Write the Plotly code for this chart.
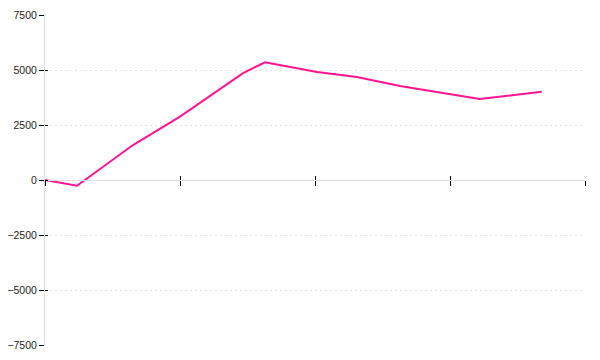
import plotly.graph_objects as go

x_vals = [0.0, 0.237, 0.652, 1.0, 1.467, 1.63, 2.015, 2.31, 2.63, 3.22, 3.68]
y_vals = [0, -260, 1590, 2880, 4860, 5350, 4910, 4680, 4270, 3680, 4010]
y_ticks = [-7500, -5000, -2500, 0, 2500, 5000, 7500]
x_ticks = [0, 1, 2, 3, 4]

fig = go.Figure()
# helper trace so the overlay axes (inner halves of the ticks) get drawn
fig.add_trace(go.Scatter(x=x_vals, y=y_vals, mode="lines", xaxis="x2", yaxis="y2",
                         line=dict(color="rgba(0,0,0,0)", width=0), hoverinfo="skip"))
fig.add_trace(go.Scatter(x=x_vals, y=y_vals, mode="lines",
                         line=dict(color="#ff1493", width=2), hoverinfo="skip"))

font = dict(family="Liberation Sans, Arial, sans-serif", size=10.5, color="#222")

fig.update_layout(
    width=600, height=360,
    margin=dict(l=45, r=15, t=15, b=15, autoexpand=False),
    paper_bgcolor="white", plot_bgcolor="white",
    showlegend=False,
    xaxis=dict(range=[0, 4], tickvals=x_ticks, showticklabels=False,
               anchor="free", position=0.5, automargin=False,
               showline=True, linecolor="#dddddd", linewidth=1,
               ticks="outside", ticklen=5, tickcolor="black", tickwidth=1,
               showgrid=False, zeroline=False),
    xaxis2=dict(range=[0, 4], tickvals=x_ticks, showticklabels=False,
                overlaying="x", anchor="free", position=0.5, automargin=False,
                showline=False, ticks="inside", ticklen=4, tickcolor="black",
                tickwidth=1, showgrid=False, zeroline=False),
    yaxis=dict(range=[-7500, 7500], tickvals=y_ticks, automargin=False,
               showline=True, linecolor="#dddddd", linewidth=1,
               ticks="outside", ticklen=5, tickcolor="black", tickwidth=1,
               showgrid=True, gridcolor="#e2e2e2", griddash="2px,3px",
               zeroline=False, tickfont=font),
    yaxis2=dict(range=[-7500, 7500], tickvals=y_ticks, overlaying="y",
                anchor="x", automargin=False,
                showticklabels=False, showline=False, ticks="inside",
                ticklen=3, tickcolor="black", tickwidth=1,
                showgrid=False, zeroline=False),
)

fig.write_html("out.html")
